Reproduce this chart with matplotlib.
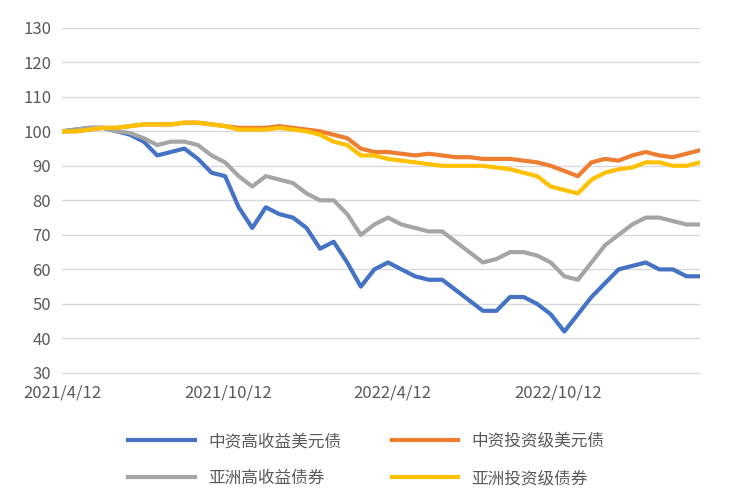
import matplotlib
matplotlib.use("Agg")
import matplotlib.pyplot as plt
import pandas as pd

plt.rcParams['font.family'] = ['Noto Sans CJK SC', 'DejaVu Sans']

dates = pd.date_range("2021-04-12", periods=48, freq="15D")
cn_hy = [100,100.5,101,101,100,99,97,93,94,95,92,88,87,78,72,78,76,75,72,66,68,62,55,60,62,60,58,57,57,54,51,48,48,52,52,50,47,42,47,52,56,60,61,62,60,60,58,58]
cn_ig = [100,100,100.5,101,101,101.5,102,102,102,102.5,102.5,102,101.5,101,101,101,101.5,101,100.5,100,99,98,95,94,94,93.5,93,93.5,93,92.5,92.5,92,92,92,91.5,91,90,88.5,87,91,92,91.5,93,94,93,92.5,93.5,94.5]
as_hy = [100,100.5,101,101,100,99.5,98,96,97,97,96,93,91,87,84,87,86,85,82,80,80,76,70,73,75,73,72,71,71,68,65,62,63,65,65,64,62,58,57,62,67,70,73,75,75,74,73,73]
as_ig = [100,100,100.5,101,101,101.5,102,102,102,102.5,102.5,102,101.5,100.5,100.5,100.5,101,100.5,100,99,97,96,93,93,92,91.5,91,90.5,90,90,90,90,89.5,89,88,87,84,83,82,86,88,89,89.5,91,91,90,90,91]
names = ["中资高收益美元债", "中资投资级美元债", "亚洲高收益债券", "亚洲投资级债券"]
colors = ["#4472C4", "#ED7D31", "#A5A5A5", "#FFC000"]

fig = plt.figure(figsize=(7.33, 5.04), dpi=100)
ax = fig.add_axes([0.085, 0.26, 0.87, 0.685])
for s, n, c in zip([cn_hy, cn_ig, as_hy, as_ig], names, colors):
    ax.plot(dates, s, color=c, lw=3, label=n)
ax.set_ylim(30, 130)
ax.set_yticks(range(30, 131, 10))
ax.set_xlim(dates[0], dates[-1])
ticks = pd.to_datetime(["2021-04-12", "2021-10-12", "2022-04-12", "2022-10-12"])
ax.set_xticks(ticks)
ax.set_xticklabels(["2021/4/12", "2021/10/12", "2022/4/12", "2022/10/12"])
ax.grid(axis='y', color='#D9D9D9', lw=1)
ax.set_axisbelow(True)
for sp in ["top", "right", "left"]:
    ax.spines[sp].set_visible(False)
ax.spines["bottom"].set_color("#D9D9D9")
ax.tick_params(length=0, labelsize=12, colors="#595959", pad=8)
handles, labels = ax.get_legend_handles_labels()
order = [0, 2, 1, 3]
fig.legend([handles[i] for i in order], [labels[i] for i in order], loc="lower center", ncol=2, frameon=False,
           fontsize=12, bbox_to_anchor=(0.5, 0.02), columnspacing=3, handlelength=4,
           labelcolor="#595959", borderaxespad=0, labelspacing=1.2)
fig.savefig("out.png")
